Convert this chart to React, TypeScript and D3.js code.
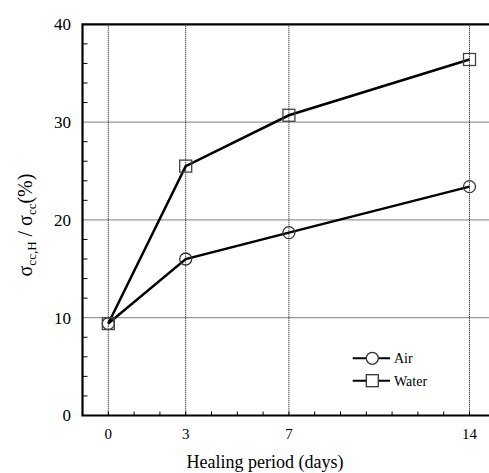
import React from 'react';
import * as d3 from 'd3';

const days = [0, 3, 7, 14];
const airValues = [9.4, 16.0, 18.7, 23.4];
const waterValues = [9.4, 25.5, 30.7, 36.4];
const yTicks = [0, 10, 20, 30, 40];
const seriesNames = ['Air', 'Water'];

const width = 489,
      height = 473;

const x = d3.scaleLinear().domain([-1, 15]).range([82.5, 495.3]);
const y = d3.scaleLinear().domain([0, 40]).range([415.5, 24.3]);

const line = d3.line()
  .x(d => x(d[0]))
  .y(d => y(d[1]));

const serif = 'Liberation Serif';

export default function App() {
  const air = days.map((d, i) => [d, airValues[i]]);
  const water = days.map((d, i) => [d, waterValues[i]]);
  const xMinor = d3.range(0, 15);
  const yMinor = d3.range(2, 40, 2).filter(v => v % 10 !== 0);

  return (
    <svg width={width} height={height}
      style={{ position: 'absolute', left: 0, top: 0, background: '#fff' }}>
      {/* grid */}
      {days.map(d => (
        <line key={'gx' + d} x1={x(d)} x2={x(d)} y1={y(40)} y2={y(0)}
          stroke="#000" strokeWidth={1} strokeDasharray="1,1" />
      ))}
      {[10, 20, 30].map(v => (
        <line key={'gy' + v} x1={x(-1)} x2={width} y1={y(v)} y2={y(v)}
          stroke="#000" strokeWidth={1} strokeDasharray="1,1" />
      ))}

      {/* minor ticks */}
      {xMinor.map(d => (
        <line key={'tx' + d} x1={x(d)} x2={x(d)} y1={y(0)} y2={y(0) - 4}
          stroke="#000" strokeWidth={1} />
      ))}
      {yMinor.map(v => (
        <line key={'ty' + v} x1={x(-1)} x2={x(-1) + 5} y1={y(v)} y2={y(v)}
          stroke="#000" strokeWidth={1} />
      ))}

      {/* frame: top, left, bottom (right side falls outside the picture) */}
      <path d={`M${width},${y(40)}H${x(-1)}V${y(0)}H${width}`}
        fill="none" stroke="#000" strokeWidth={2.2} />

      {/* series lines */}
      <path d={line(water)} fill="none" stroke="#000" strokeWidth={2.5} />
      <path d={line(air)} fill="none" stroke="#000" strokeWidth={2.5} />

      {/* markers */}
      {air.map((p, i) => (
        <circle key={'a' + i} cx={x(p[0])} cy={y(p[1])} r={6}
          fill="none" stroke="#333" strokeWidth={1.3} />
      ))}
      {water.map((p, i) => (
        <rect key={'w' + i} x={x(p[0]) - 6} y={y(p[1]) - 6} width={12} height={12}
          fill="none" stroke="#444" strokeWidth={1.3} />
      ))}

      {/* y tick labels */}
      {yTicks.map(v => (
        <text key={'yl' + v} x={71} y={y(v)} dy="0.35em" textAnchor="end"
          fontFamily={serif} fontSize={17} fill="#000">{v}</text>
      ))}
      {/* x tick labels */}
      {days.map(d => (
        <text key={'xl' + d} x={x(d)} y={439} textAnchor="middle"
          fontFamily={serif} fontSize={15} fill="#000">{d}</text>
      ))}

      {/* axis titles */}
      <text x={265} y={468} textAnchor="middle" fontFamily={serif} fontSize={18} fill="#000">
        Healing period (days)
      </text>
      <text transform="translate(32,225) rotate(-90)" textAnchor="middle"
        fontFamily={serif} fontSize={20} fill="#000">
        <tspan>σ</tspan>
        <tspan fontSize={13} dy={4}>cc,H</tspan>
        <tspan dy={-4}> / σ</tspan>
        <tspan fontSize={13} dy={4}>cc</tspan>
        <tspan dy={-4}>(%)</tspan>
      </text>

      {/* legend */}
      {seriesNames.map((name, i) => {
        const ly = 358.3 + i * 22.4;
        return (
          <g key={name}>
            <line x1={352.7} x2={390} y1={ly} y2={ly} stroke="#000" strokeWidth={2} />
            {i === 0
              ? <circle cx={372.3} cy={ly} r={6} fill="#fff" stroke="#333" strokeWidth={1.3} />
              : <rect x={366.3} y={ly - 6} width={12} height={12} fill="#fff" stroke="#333" strokeWidth={1.3} />}
            <text x={394} y={ly} dy="0.35em" fontFamily={serif} fontSize={14} fill="#000">{name}</text>
          </g>
        );
      })}
    </svg>
  );
}
